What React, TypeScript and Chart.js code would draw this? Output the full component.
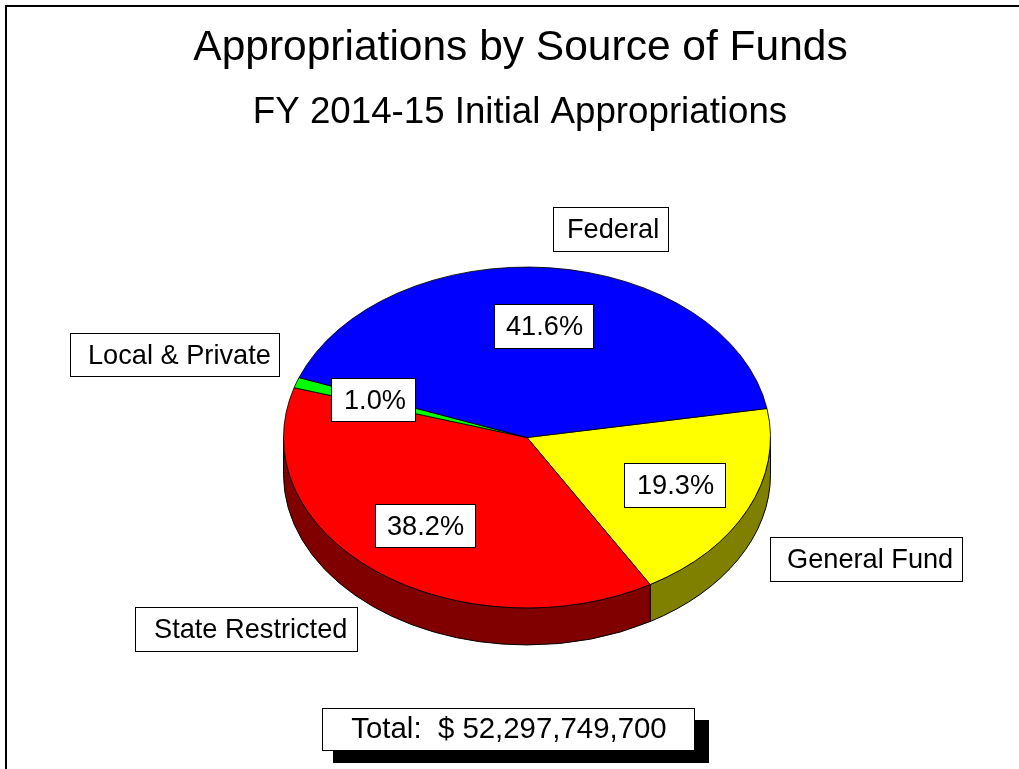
import React, { useEffect, useRef } from "react";
import { Chart, registerables } from "chart.js";

Chart.register(...registerables);

const categories = ["General Fund", "State Restricted", "Local & Private", "Federal"];
const shares = [19.3, 38.2, 1.0, 41.6];
const percentLabels = ["19.3%", "38.2%", "1.0%", "41.6%"];
const topColors = ["#ffff00", "#ff0000", "#00ff00", "#0000ff"];
const sideColors = ["#808000", "#800000", "#008000", "#000080"];
const titleText = "Appropriations by Source of Funds";
const subtitleText = "FY 2014-15 Initial Appropriations";
const totalText = "Total:  $ 52,297,749,700";

const SQUASH = 0.7;
const DEPTH = 37;
const FONT = '"Liberation Sans", Arial, sans-serif';

type Box = { text: string; x: number; y: number; w: number; h: number; tx: number };
const labelBoxes: Box[] = [
  { text: "Federal", x: 553, y: 207, w: 115, h: 44, tx: 567 },
  { text: "Local & Private", x: 70, y: 333, w: 209, h: 43, tx: 88 },
  { text: "General Fund", x: 770, y: 537, w: 192, h: 44, tx: 787 },
  { text: "State Restricted", x: 135, y: 607, w: 222, h: 44, tx: 154 },
];
const percentBoxes: Box[] = [
  { text: percentLabels[3], x: 494, y: 304, w: 99, h: 44, tx: 506 },
  { text: percentLabels[2], x: 331, y: 378, w: 84, h: 43, tx: 344 },
  { text: percentLabels[0], x: 624, y: 463, w: 101, h: 44, tx: 637 },
  { text: percentLabels[1], x: 375, y: 504, w: 100, h: 43, tx: 387 },
];

function drawBox(ctx: CanvasRenderingContext2D, b: Box) {
  ctx.fillStyle = "#ffffff";
  ctx.fillRect(b.x, b.y, b.w, b.h);
  ctx.strokeStyle = "#000000";
  ctx.lineWidth = 1;
  ctx.strokeRect(b.x + 0.5, b.y + 0.5, b.w, b.h);
  ctx.fillStyle = "#000000";
  ctx.font = `27.2px ${FONT}`;
  ctx.textAlign = "left";
  ctx.textBaseline = "alphabetic";
  ctx.fillText(b.text, b.tx, b.y + 31);
}

const piePlugin = {
  id: "squashedPie",
  beforeDatasetsDraw(chart: any) {
    const { ctx } = chart;
    const arcs = chart.getDatasetMeta(0).data;
    const { x: cx, y: cy, outerRadius: r } = arcs[0];
    ctx.save();
    // extruded wall, lower half only
    const ry = r * SQUASH;
    arcs.forEach((arc: any, i: number) => {
      const a = arc.startAngle;
      const b = arc.endAngle;
      const ranges: [number, number][] = [];
      for (const k of [0, 2]) {
        const lo = Math.max(a, k * Math.PI);
        const hi = Math.min(b, k * Math.PI + Math.PI);
        if (hi > lo) ranges.push([lo, hi]);
      }
      ranges.forEach(([lo, hi]) => {
        ctx.beginPath();
        ctx.ellipse(cx, cy, r, ry, 0, lo, hi);
        ctx.ellipse(cx, cy + DEPTH, r, ry, 0, hi, lo, true);
        ctx.closePath();
        ctx.fillStyle = sideColors[i];
        ctx.fill();
        ctx.strokeStyle = "#000000";
        ctx.lineWidth = 1;
        ctx.stroke();
      });
    });
    ctx.restore();
    ctx.save();
    ctx.translate(cx, cy);
    ctx.scale(1, SQUASH);
    ctx.translate(-cx, -cy);
  },
  afterDatasetsDraw(chart: any) {
    const { ctx } = chart;
    ctx.restore();
    // outer frame: top and left only
    ctx.save();
    ctx.strokeStyle = "#000000";
    ctx.lineWidth = 2;
    ctx.beginPath();
    ctx.moveTo(6, 769);
    ctx.lineTo(6, 6);
    ctx.lineTo(1019, 6);
    ctx.stroke();

    ctx.fillStyle = "#000000";
    ctx.textAlign = "center";
    ctx.textBaseline = "alphabetic";
    ctx.font = `42.5px ${FONT}`;
    ctx.fillText(titleText, 520.5, 60);
    ctx.font = `36.7px ${FONT}`;
    ctx.fillText(subtitleText, 520, 123);

    labelBoxes.forEach((b) => drawBox(ctx, b));
    percentBoxes.forEach((b) => drawBox(ctx, b));

    // total box with shadow
    ctx.fillStyle = "#000000";
    ctx.fillRect(333, 720, 376, 43);
    ctx.fillStyle = "#ffffff";
    ctx.fillRect(322, 708, 373, 42);
    ctx.strokeStyle = "#000000";
    ctx.lineWidth = 1;
    ctx.strokeRect(322.5, 708.5, 372, 42);
    ctx.fillStyle = "#000000";
    ctx.font = `29.4px ${FONT}`;
    ctx.textAlign = "center";
    ctx.fillText(totalText, 509, 738);
    ctx.restore();
  },
};

export default function App() {
  const ref = useRef<HTMLCanvasElement>(null);
  useEffect(() => {
    document.body.style.margin = "0";
    const chart = new Chart(ref.current!, {
      type: "pie",
      data: {
        labels: categories,
        datasets: [
          {
            data: shares,
            backgroundColor: topColors,
            borderColor: "#000000",
            borderWidth: 1,
            borderAlign: "center",
          },
        ],
      },
      options: {
        responsive: false,
        animation: false,
        rotation: 80.2,
        layout: { padding: { left: 283, right: 248, top: 193.5, bottom: 87.5 } },
        plugins: { legend: { display: false }, tooltip: { enabled: false } },
      },
      plugins: [piePlugin],
    } as any);
    return () => chart.destroy();
  }, []);
  return <canvas ref={ref} width={1019} height={769} style={{ display: "block" }} />;
}
